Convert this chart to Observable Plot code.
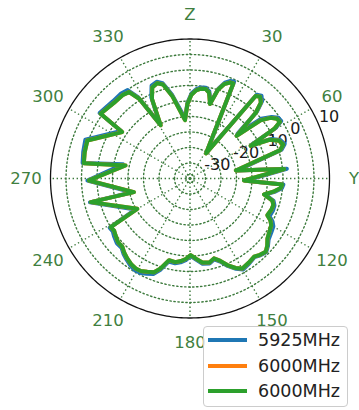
<!DOCTYPE html>
<html>
<head>
<meta charset="utf-8">
<script src="https://cdn.jsdelivr.net/npm/d3@7"></script>
<script src="https://cdn.jsdelivr.net/npm/@observablehq/plot@0.6"></script>
<style>
  html, body { margin: 0; padding: 0; background: #fff; }
  #wrap { position: relative; width: 359px; height: 410px; overflow: hidden; font-family: "DejaVu Sans", sans-serif; }
  #legend { position: absolute; left: 203px; top: 326px; width: 145px; height: 81px; box-sizing: border-box;
            border: 1px solid #cccccc; border-radius: 4px; background: rgba(255,255,255,0.8); }
  .item { position: absolute; left: 0; height: 20px; width: 145px; }
  .swatch { position: absolute; left: 4px; top: 8px; width: 39px; height: 4px; }
  .lab { position: absolute; left: 54px; top: -1px; font-size: 17.5px; line-height: 22px; color: #222; white-space: nowrap; }
</style>
</head>
<body>
<div id="wrap"></div>
<script>
// ---- data ----
const angleTicks = [0, 30, 60, 90, 120, 150, 180, 210, 240, 270, 300, 330];
const angleLabels = ["Z", "30", "60", "Y", "120", "150", "180", "210", "240", "270", "300", "330"];
const radialTicks = [-30, -20, -10, 0, 10];
const gridRings = [-33.7, -30, -25, -20, -15, -10, -5, 0, 5];
const seriesNames = ["5925MHz", "6000MHz", "6000MHz"];
const seriesColors = ["#1f77b4", "#ff7f0e", "#2ca02c"];

// [angle (deg, clockwise from Z), gain (dB)] in drawing order
const green6000 = [
  [355.1, -16.1], [358, -11.0], [1, -8.0], [4, -6.5], [7, -5.8], [10, -5.7], [12.5, -6.6], [15, -10.1],
  [17.5, -5.0], [20, -2.6], [22.5, -1.5], [24.5, -1.3], [32.6, -25.4], [38.5, -1.0], [40.6, -0.3],
  [43, -1.5], [45, -5.0], [47.6, -14.6], [50.5, -5.5], [53, -2.5], [55.5, -1.0], [57.8, -0.7],
  [59.5, -3.5], [61.7, -12.8], [64, -6.5], [67, -3.8], [70, -3.0], [72.5, -4.5], [80.1, -20.0],
  [84.3, -4.5], [92.1, -17.6], [93.7, -5.2], [96, -5.6], [99, -7.8], [102.2, -10.6], [105, -7.5],
  [107.7, -6.8], [111, -6.9], [115.4, -7.4], [117.5, -5.8], [119.8, -4.8], [123, -4.3], [127.8, -3.4],
  [131, -2.0], [134.1, -1.0], [137.5, -1.6], [140.7, -2.4], [145, -1.9], [149.8, -1.4], [153, -2.6],
  [156.7, -4.6], [160, -6.8], [163.3, -8.1], [167, -7.2], [171.6, -7.6], [175.5, -9.0], [179.5, -10.3],
  [183, -9.0], [186.4, -8.2], [190, -7.6], [194.4, -7.8], [198.1, -4.5], [201, -2.6], [204.6, -1.9],
  [208, -1.2], [211.1, -1.1], [214.5, -1.5], [218.1, -2.2], [221.5, -3.0], [224.7, -4.0], [228.5, -4.0],
  [232.7, -4.8], [235.5, -5.3], [238.5, -5.0], [240.1, -15.4], [256.6, -2.1], [256.3, -16.4],
  [268.9, -2.4], [281.4, -13.8], [278.2, -0.4], [284, 0.0], [290.3, 0.3], [304.4, -8.5], [305.9, 0.6],
  [315, -0.4], [321, -0.4], [324.8, -0.9], [327.5, -4.5], [331.2, -15.4], [334.5, -6.5], [337.5, -3.2],
  [341, -2.5], [344, -3.5], [348, -8.0], [355.1, -16.1]
];
const blue5925 = [
  [355.4, -15.6], [358, -10.6], [1, -7.6], [4, -6.1], [7, -5.4], [10, -5.3], [12.5, -6.2], [15.2, -9.6],
  [17.5, -4.6], [20, -2.1], [22.5, -0.9], [24.5, -0.7], [32.4, -25.0], [38.5, -0.5], [40.8, 0.3],
  [43, -0.9], [45, -4.4], [46.8, -14.0], [50, -5.0], [53, -2.0], [55.5, -0.4], [57.8, -0.2],
  [59.5, -3.0], [61.2, -12.2], [64, -6.0], [67, -3.3], [70, -2.5], [72.5, -4.0], [80.4, -19.5],
  [84.3, -3.6], [92.3, -17.2], [93.7, -4.8], [96, -5.2], [99, -7.4], [102, -10.2], [105, -7.1],
  [107.7, -6.4], [111, -6.3], [115.4, -6.6], [117.5, -5.0], [119.8, -4.0], [123, -3.6], [127.8, -2.9],
  [131, -1.7], [134.1, -0.8], [137.5, -1.4], [140.7, -2.2], [145, -1.6], [149.8, -1.0], [153, -2.3],
  [156.7, -4.3], [160, -6.5], [163.3, -7.8], [167, -6.9], [171.6, -7.2], [175.5, -8.7], [179.5, -10.0],
  [183, -8.6], [186.4, -7.8], [190, -7.2], [194.4, -7.3], [198.1, -3.9], [201, -2.0], [204.6, -1.2],
  [208, -0.6], [211.1, -0.5], [214.5, -1.0], [218.1, -1.8], [221.5, -2.6], [224.7, -3.6], [228.5, -3.5],
  [232.7, -4.2], [235.5, -4.8], [238.5, -4.6], [240.4, -14.8], [256.6, -1.8], [256.6, -15.8],
  [268.9, -1.9], [282.0, -12.9], [278.2, 0.0], [284, 0.5], [290.3, 1.0], [304.6, -8.0], [305.9, 1.0],
  [315, 0.2], [321, 0.3], [324.8, -0.1], [327.5, -4.0], [331.0, -15.0], [334.5, -6.0], [337.5, -2.6],
  [341, -2.0], [344, -3.0], [348, -7.5], [355.4, -15.6]
];
const orange6000 = green6000;   // the second 6000MHz trace coincides with the first

// ---- polar mapping through Plot's azimuthal projection ----
const rMin = -35, rMax = 10, k = 0.01;
const lon = (t) => 180 - t;
const lat = (db) => 90 - (db - rMin) * k;
const circle = (db) => d3.geoCircle().center([0, 90]).radius((db - rMin) * k).precision(1)();

const gridColor = "#3c7a3c";
const labelColor = "#407f40";
const traces = [blue5925, orange6000, green6000];

const chart = Plot.plot({
  width: 359,
  height: 410,
  marginLeft: 50,
  marginTop: 38.5,
  marginRight: 30,
  marginBottom: 92.5,
  style: {fontFamily: "DejaVu Sans, sans-serif", background: "transparent"},
  projection: {
    type: "azimuthal-equidistant",
    rotate: [0, -90],
    domain: circle(rMax),
    clip: false
  },
  marks: [
    Plot.geo(gridRings, {geometry: circle, fill: "none", stroke: gridColor, strokeWidth: 1.4, strokeDasharray: "1.4,2.6"}),
    Plot.link(angleTicks, {x1: (d) => lon(d), y1: 90, x2: (d) => lon(d), y2: lat(rMax), stroke: gridColor, strokeWidth: 1.4, strokeDasharray: "1.4,2.6"}),
    Plot.geo([rMax], {geometry: circle, fill: "none", stroke: "#111", strokeWidth: 1.3}),
    Plot.text(radialTicks, {x: lon(67.5), y: (d) => lat(d), text: (d) => String(d), textAnchor: "start", lineAnchor: "bottom", dy: -3, fontSize: 16, fill: "#1a1a1a"}),
    ...traces.map((tr, i) => Plot.line(tr, {
      x: (d) => lon(d[0]), y: (d) => lat(d[1]), curve: "linear",
      stroke: seriesColors[i], strokeWidth: 4, strokeLinejoin: "round", strokeLinecap: "round"
    })),
    Plot.text(angleTicks, {x: (d) => lon(d), y: lat(17.9), text: (d, i) => angleLabels[i], textAnchor: "middle", fontSize: 16.5, fill: labelColor})
  ]
});

const wrap = document.getElementById("wrap");
wrap.appendChild(chart);
chart.style.position = "absolute";
chart.style.left = "0";
chart.style.top = "0";

const legend = document.createElement("div");
legend.id = "legend";
seriesNames.forEach((name, i) => {
  const item = document.createElement("div");
  item.className = "item";
  item.style.top = (3 + i * 25.5) + "px";
  const sw = document.createElement("div");
  sw.className = "swatch";
  sw.style.background = seriesColors[i];
  const lab = document.createElement("div");
  lab.className = "lab";
  lab.textContent = name;
  item.appendChild(sw);
  item.appendChild(lab);
  legend.appendChild(item);
});
wrap.appendChild(legend);
</script>
</body>
</html>
